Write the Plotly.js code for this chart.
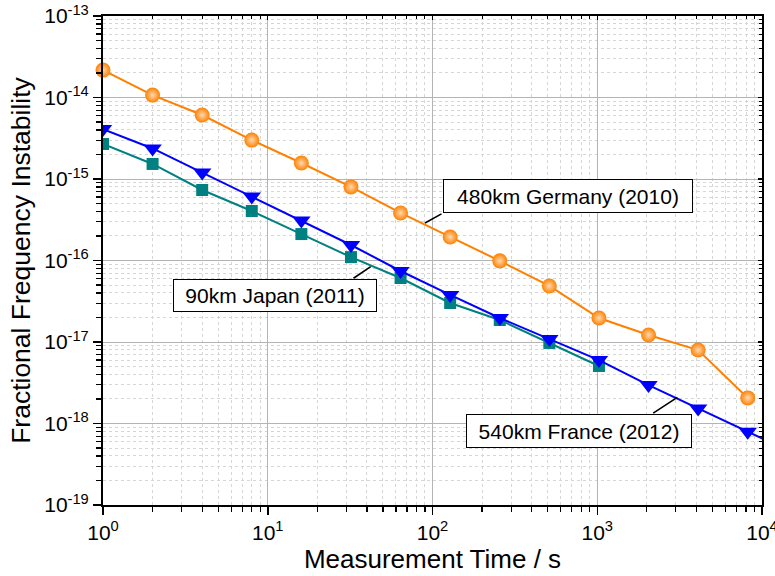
<!DOCTYPE html>
<html>
<head>
<meta charset="utf-8">
<script src="https://cdn.plot.ly/plotly-3.0.1.min.js"></script>
<style>
  html, body { margin: 0; padding: 0; background: #fff; }
  #chart { width: 775px; height: 576px; }
</style>
</head>
<body>
<div id="chart"></div>
<script>
// Averaging times (s) and fractional frequency instability of three fibre links
const tauGermany = [1, 2, 4, 8, 16, 32, 64, 128, 256, 512, 1024, 2048, 4096, 8192];
const germany = [2.17e-14, 1.07e-14, 6.1e-15, 3.0e-15, 1.57e-15, 8.0e-16, 3.83e-16,
                 1.94e-16, 9.9e-17, 4.87e-17, 1.97e-17, 1.22e-17, 7.97e-18, 2.06e-18];

const tauFrance = [1, 2, 4, 8, 16, 32, 64, 128, 256, 512, 1024, 2048, 4096, 8192, 16384];
const france = [4.1e-15, 2.37e-15, 1.2e-15, 6.1e-16, 3.1e-16, 1.55e-16, 7.43e-17,
                3.78e-17, 1.97e-17, 1.09e-17, 6.0e-18, 2.96e-18, 1.53e-18, 7.9e-19, 4.1e-19];

const tauJapan = [1, 2, 4, 8, 16, 32, 64, 128, 256, 512, 1024];
const japan = [2.69e-15, 1.53e-15, 7.33e-16, 4.05e-16, 2.11e-16, 1.1e-16, 6.1e-17,
               3.01e-17, 1.86e-17, 9.73e-18, 5.08e-18];

const linkLabels = ['480km Germany (2010)', '90km Japan (2011)', '540km France (2012)'];

// Decade exponents used for the tick labels
const xTickExps = [0, 1, 2, 3, 4];
const yTickExps = [-19, -18, -17, -16, -15, -14, -13];

const FONT = '"Liberation Sans", Arimo, Arial, sans-serif';
const ORANGE = '#FF8000';
const BLUE = '#0000FF';
const TEAL = '#008080';

const xTickVals = xTickExps.map(e => Math.pow(10, e));
const xTickText = xTickExps.map(e => '10<sup>' + e + '</sup>');
const yTickVals = yTickExps.map(e => Math.pow(10, e));
const yTickText = yTickExps.map(e => '10<sup>' + e + '</sup>');

const traces = [
  {
    x: tauJapan, y: japan, mode: 'lines+markers', name: linkLabels[1],
    line: {color: TEAL, width: 2},
    marker: {symbol: 'square', size: 12, color: TEAL, line: {width: 0}}
  },
  {
    x: tauFrance, y: france, mode: 'lines+markers', name: linkLabels[2],
    line: {color: BLUE, width: 2},
    marker: {symbol: 'triangle-down', size: 16, color: BLUE, line: {width: 0}}
  },
  {
    x: tauGermany, y: germany, mode: 'lines+markers', name: linkLabels[0],
    cliponaxis: false,
    line: {color: ORANGE, width: 2},
    marker: {symbol: 'circle', size: 15, color: ORANGE,
             gradient: {type: 'radial', color: '#FFD9B0'}, line: {width: 0}}
  },
  // carrier for the inward tick marks on the top and right frame
  {x: [], y: [], xaxis: 'x2', yaxis: 'y2', mode: 'markers', hoverinfo: 'skip', showlegend: false}
];

const commonAxis = {
  type: 'log',
  showline: true, linecolor: '#000', linewidth: 2, mirror: true,
  ticks: 'outside', ticklen: 8, tickwidth: 1.5, tickcolor: '#000',
  tickmode: 'array', ticklabeloverflow: 'allow',
  showgrid: true, gridcolor: '#b4b4b4', gridwidth: 1,
  zeroline: false,
  tickfont: {family: FONT, size: 21, color: '#000'},
  minor: {tickmode: 'linear', dtick: 'D1', ticks: 'outside', ticklen: 5, tickwidth: 1.2,
          tickcolor: '#000', showgrid: true, gridcolor: '#d6d6d6', griddash: '3px,3px', gridwidth: 1}
};

const innerTicks = {
  type: 'log', showline: false, showgrid: false, zeroline: false,
  ticks: 'inside', ticklen: 4, tickwidth: 1.2, tickcolor: '#000',
  tickmode: 'array', showticklabels: false,
  minor: {tickmode: 'linear', dtick: 'D1', ticks: 'inside', ticklen: 3, tickwidth: 1,
          tickcolor: '#000', showgrid: false}
};

const boxStyle = {
  showarrow: false, bgcolor: '#fff', bordercolor: '#000', borderwidth: 1, borderpad: 1,
  font: {family: FONT, size: 21, color: '#000'}, align: 'center',
  xref: 'paper', yref: 'paper', xanchor: 'left', yanchor: 'top'
};

const connector = {
  text: ' ', font: {size: 1}, showarrow: true, arrowhead: 0, arrowwidth: 1.6,
  arrowcolor: '#000', standoff: 0, xref: 'x', yref: 'y'
};

const layout = {
  width: 775, height: 576,
  margin: {l: 103, r: 13, t: 16, b: 71},
  paper_bgcolor: '#fff', plot_bgcolor: '#fff',
  showlegend: false,
  font: {family: FONT, color: '#000'},
  xaxis: Object.assign({}, commonAxis, {
    range: [0, 4], tickvals: xTickVals, ticktext: xTickText,
    title: {text: 'Measurement Time / s', font: {family: FONT, size: 26, color: '#000'}, standoff: 5}
  }),
  yaxis: Object.assign({}, commonAxis, {
    range: [-19, -13], tickvals: yTickVals, ticktext: yTickText,
    title: {text: 'Fractional Frequency Instability', font: {family: FONT, size: 26.5, color: '#000'}, standoff: 6}
  }),
  xaxis2: Object.assign({}, innerTicks, {
    overlaying: 'x', side: 'top', anchor: 'y2', range: [0, 4], tickvals: xTickVals
  }),
  yaxis2: Object.assign({}, innerTicks, {
    overlaying: 'y', side: 'right', anchor: 'x2', range: [-19, -13], tickvals: yTickVals
  }),
  annotations: [
    Object.assign({}, boxStyle, {text: linkLabels[0], x: 0.5159, y: 0.6667, width: 246, height: 30}),
    Object.assign({}, boxStyle, {text: linkLabels[1], x: 0.1062, y: 0.4622, width: 200, height: 29}),
    Object.assign({}, boxStyle, {text: linkLabels[2], x: 0.5508, y: 0.1861, width: 222, height: 30}),
    Object.assign({}, connector, {x: 1.9545, y: -15.540, ax: 18, ay: -10}),
    Object.assign({}, connector, {x: 1.6249, y: -16.076, ax: -18.7, ay: 12.6}),
    Object.assign({}, connector, {x: 3.486, y: -17.679, ax: -25.6, ay: 16.7})
  ]
};

Plotly.newPlot('chart', traces, layout, {displayModeBar: false, staticPlot: true});
</script>
</body>
</html>
